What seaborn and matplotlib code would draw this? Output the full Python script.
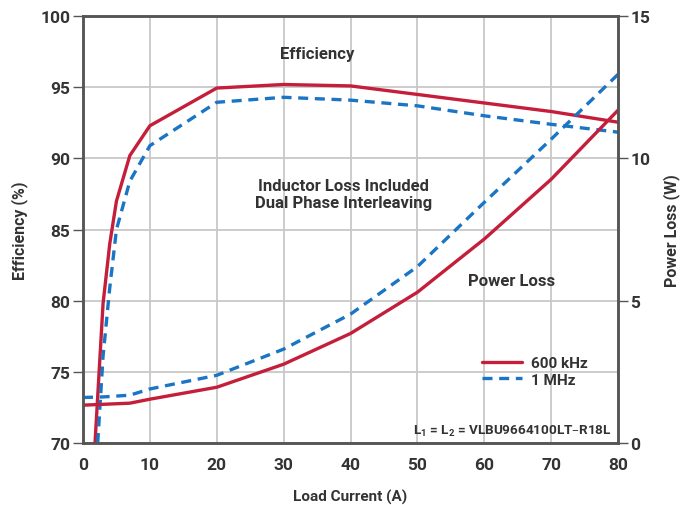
import seaborn as sns
import pandas as pd
import matplotlib.pyplot as plt

# efficiency (%) vs load current (A)
eff_600k_x = [1.8, 3, 4, 5, 7, 10, 20, 30, 40, 50, 60, 70, 80]
eff_600k_y = [70, 79.8, 84.0, 87.0, 90.2, 92.3, 94.95, 95.2, 95.1, 94.5, 93.9, 93.3, 92.55]
eff_1m_x = [2.2, 3, 4, 5, 7, 10, 20, 30, 40, 50, 60, 70, 80]
eff_1m_y = [70, 76.1, 80.9, 85.0, 88.4, 90.9, 93.95, 94.3, 94.1, 93.7, 93.0, 92.4, 91.85]

# power loss (W) vs load current (A)
loss_600k_x = [0, 7, 10, 20, 30, 40, 50, 60, 70, 80]
loss_600k_y = [1.33, 1.4, 1.54, 1.96, 2.77, 3.85, 5.3, 7.17, 9.27, 11.7]
loss_1m_x = [0, 3, 7, 10, 20, 30, 40, 50, 60, 70, 80]
loss_1m_y = [1.6, 1.62, 1.68, 1.9, 2.38, 3.3, 4.53, 6.2, 8.46, 10.68, 12.96]

red = "#c41e3a"
blue = "#1a75c4"
txt = "#333333"

sns.set_style("white")
plt.rcParams['font.family'] = ['Roboto', 'DejaVu Sans']
plt.rcParams['mathtext.default'] = 'regular'

fig = plt.figure(figsize=(6.83, 5.06), dpi=100)
ax = fig.add_axes([0.1215, 0.1225, 0.7835, 0.8435])
ax2 = ax.twinx()

e6 = pd.DataFrame({"x": eff_600k_x, "y": eff_600k_y})
e1 = pd.DataFrame({"x": eff_1m_x, "y": eff_1m_y})
l6 = pd.DataFrame({"x": loss_600k_x, "y": loss_600k_y})
l1 = pd.DataFrame({"x": loss_1m_x, "y": loss_1m_y})

sns.lineplot(data=e6, x="x", y="y", ax=ax, color=red, lw=2.4, estimator=None, label="600 kHz")
sns.lineplot(data=e1, x="x", y="y", ax=ax, color=blue, lw=2.4, estimator=None, label="1 MHz")
ax.lines[1].set_dashes([3, 2])
sns.lineplot(data=l6, x="x", y="y", ax=ax2, color=red, lw=2.4, estimator=None, legend=False)
sns.lineplot(data=l1, x="x", y="y", ax=ax2, color=blue, lw=2.4, estimator=None, legend=False)
ax2.lines[1].set_dashes([3, 2])

ax.set_xlim(0, 80)
ax.set_ylim(70, 100)
ax2.set_ylim(0, 15)
ax.set_xticks(range(0, 81, 10))
ax.set_yticks(range(70, 101, 5))
ax2.set_yticks([0, 5, 10, 15])
ax.grid(True, color="#c8c8c8", lw=1.3)
ax.set_axisbelow(True)

for a in (ax, ax2):
    for s in a.spines.values():
        s.set_color("#555555")
        s.set_linewidth(1.8)
    a.tick_params(labelsize=12.5, colors=txt, length=0, pad=10)
ax.tick_params(axis="y", length=7, width=1, color="#555555", pad=2)
ax2.tick_params(axis="y", length=7, width=1, color="#555555", pad=2)
for lab in ax.get_xticklabels() + ax.get_yticklabels() + ax2.get_yticklabels():
    lab.set_fontweight("bold")

ax.set_xlabel("Load Current (A)", fontsize=11, fontweight="bold", color=txt, labelpad=12)
ax.set_ylabel("Efficiency (%)", fontsize=11.5, fontweight="bold", color=txt, labelpad=9)
ax2.set_ylabel("Power Loss (W)", fontsize=11.5, fontweight="bold", color=txt, labelpad=9)

ax.text(35, 97.4, "Efficiency", ha="center", va="center", fontsize=12, fontweight="bold", color=txt)
ax.text(39, 87.5, "Inductor Loss Included\nDual Phase Interleaving", ha="center", va="center",
        fontsize=12, fontweight="bold", color=txt, linespacing=1.2)
ax.text(64, 81.45, "Power Loss", ha="center", va="center", fontsize=12, fontweight="bold", color=txt)
ax.text(79, 70.9, "L$_1$ = L$_2$ = VLBU9664100LT\u2013R18L", ha="right", va="center",
        fontsize=9.7, fontweight="bold", color=txt)

leg = ax.legend(loc="upper left", bbox_to_anchor=(0.72, 0.235), frameon=False,
                handlelength=2.6, fontsize=11, labelspacing=0.15, handletextpad=0.6)
for t in leg.get_texts():
    t.set_fontweight("bold")
    t.set_color(txt)

fig.savefig("out.png", dpi=100)
